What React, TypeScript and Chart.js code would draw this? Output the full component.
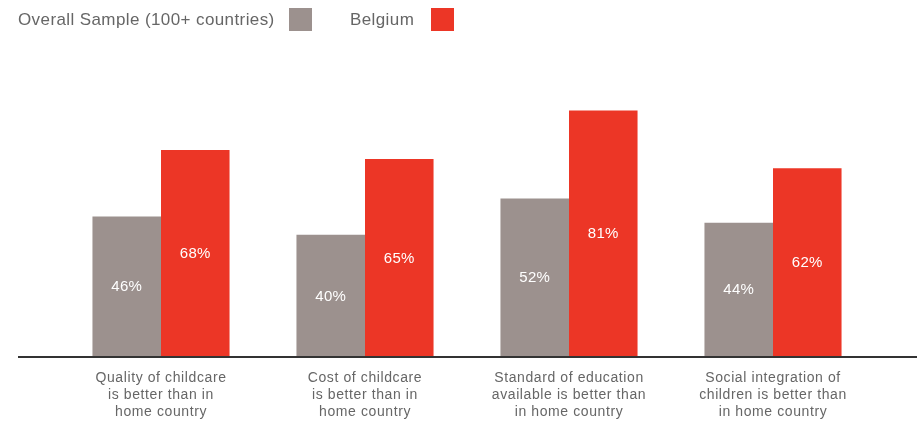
import React, { useEffect, useRef } from "react";
import { Chart, registerables } from "chart.js";

Chart.register(...registerables);

const categories: string[][] = [
  ["Quality of childcare", "is better than in", "home country"],
  ["Cost of childcare", "is better than in", "home country"],
  ["Standard of education", "available is better than", "in home country"],
  ["Social integration of", "children is better than", "in home country"],
];
const overallValues = [46, 40, 52, 44];
const belgiumValues = [68, 65, 81, 62];
const seriesNames = ["Overall Sample (100+ countries)", "Belgium"];
const GRAY = "#9c918e";
const RED = "#ec3626";
const FONT = "'Liberation Sans', Arial, sans-serif";

const overlayPlugin = {
  id: "overlay",
  afterDatasetsDraw(chart: any) {
    const { ctx } = chart;
    const x = chart.scales.x;
    const y = chart.scales.y;
    ctx.save();
    // bar value labels
    ctx.fillStyle = "#ffffff";
    ctx.font = `15px ${FONT}`;
    ctx.letterSpacing = "0.3px";
    ctx.textAlign = "center";
    ctx.textBaseline = "middle";
    chart.data.datasets.forEach((ds: any, di: number) => {
      const meta = chart.getDatasetMeta(di);
      meta.data.forEach((bar: any, i: number) => {
        const cy = (bar.y + bar.base) / 2;
        ctx.fillText(`${ds.data[i]}%`, bar.x, cy + 1);
      });
    });
    // baseline
    const y0 = y.getPixelForValue(0);
    ctx.strokeStyle = "#333333";
    ctx.lineWidth = 2;
    ctx.beginPath();
    ctx.moveTo(18, y0 + 1);
    ctx.lineTo(chart.width, y0 + 1);
    ctx.stroke();
    // category labels
    ctx.fillStyle = "#666666";
    ctx.font = `14px ${FONT}`;
    ctx.letterSpacing = "0.6px";
    ctx.textBaseline = "alphabetic";
    categories.forEach((lines, i) => {
      const cx = x.getPixelForValue(i);
      lines.forEach((ln, li) => {
        ctx.fillText(ln, cx, y0 + 26 + li * 17);
      });
    });
    ctx.restore();
  },
};

export default function App() {
  const ref = useRef<HTMLCanvasElement>(null);
  useEffect(() => {
    document.body.style.margin = "0";
    const chart = new Chart(ref.current!, {
      type: "bar",
      data: {
        labels: categories.map((c) => c.join(" ")),
        datasets: [
          { label: seriesNames[0], data: overallValues, backgroundColor: GRAY, borderWidth: 0 },
          { label: seriesNames[1], data: belgiumValues, backgroundColor: RED, borderWidth: 0 },
        ],
      },
      options: {
        animation: false,
        responsive: false,
        maintainAspectRatio: false,
        layout: { padding: { left: 59, right: 42, top: 53, bottom: 65 } },
        plugins: { legend: { display: false }, tooltip: { enabled: false } },
        datasets: { bar: { barPercentage: 1, categoryPercentage: 0.672 } },
        scales: {
          x: { display: false },
          y: { display: false, min: 0, max: 100 },
        },
      },
      plugins: [overlayPlugin],
    });
    return () => chart.destroy();
  }, []);

  const legendText: React.CSSProperties = {
    position: "absolute",
    top: 8,
    fontFamily: FONT,
    fontSize: 17,
    letterSpacing: "0.4px",
    color: "#666666",
    lineHeight: "23px",
    whiteSpace: "nowrap",
  };
  const box = (left: number, color: string): React.CSSProperties => ({
    position: "absolute",
    left,
    top: 8,
    width: 23,
    height: 23,
    background: color,
  });

  return (
    <div style={{ position: "relative", width: 917, height: 421, background: "#fff", overflow: "hidden" }}>
      <canvas ref={ref} width={917} height={421} style={{ position: "absolute", left: 0, top: 0 }} />
      <span style={{ ...legendText, left: 18 }}>{seriesNames[0]}</span>
      <div style={box(289, GRAY)} />
      <span style={{ ...legendText, left: 350 }}>{seriesNames[1]}</span>
      <div style={box(431, RED)} />
    </div>
  );
}
